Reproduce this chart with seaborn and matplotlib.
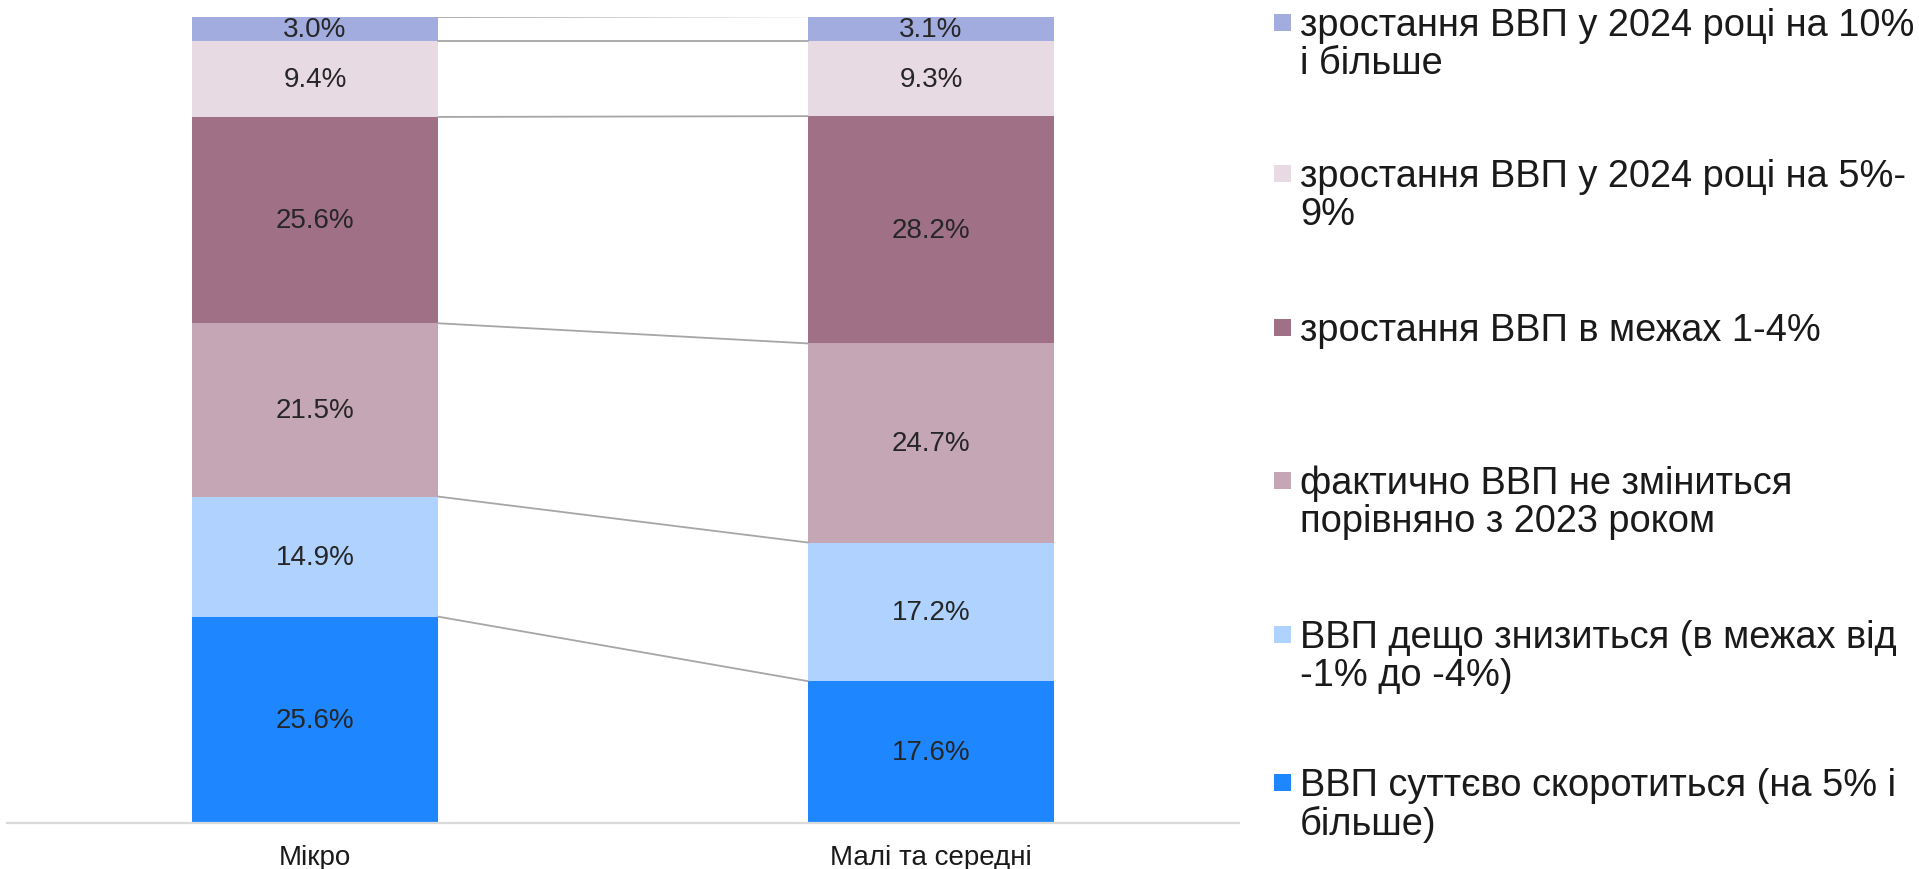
import matplotlib
matplotlib.use("Agg")
import matplotlib.pyplot as plt
from matplotlib.patches import Rectangle
import numpy as np
import seaborn as sns

# Forecast of GDP change in 2024, share of respondents by business size (%)
categories = ["Мікро", "Малі та середні"]

# stacked from the bottom up
big_drop = [25.6, 17.6]
small_drop = [14.9, 17.2]
no_change = [21.5, 24.7]
growth_1_4 = [25.6, 28.2]
growth_5_9 = [9.4, 9.3]
growth_10 = [3.0, 3.1]

series = [big_drop, small_drop, no_change, growth_1_4, growth_5_9, growth_10]
colors = ["#1E87FF", "#AFD2FE", "#C5A6B4", "#A07087", "#E8DAE2", "#A2ACDE"]

legend_labels = [
    "зростання ВВП у 2024 році на 10%\nі більше",
    "зростання ВВП у 2024 році на 5%-\n9%",
    "зростання ВВП в межах 1-4%",
    "фактично ВВП не зміниться\nпорівняно з 2023 роком",
    "ВВП дещо знизиться (в межах від\n-1% до -4%)",
    "ВВП суттєво скоротиться (на 5% і\nбільше)",
]
legend_colors = colors[::-1]

sns.set_theme(style="white")
plt.rcParams["font.family"] = ["Liberation Sans", "DejaVu Sans"]

W, H = 1919, 870
fig = plt.figure(figsize=(W / 100, H / 100), dpi=100)
ax = fig.add_axes([7 / W, 46 / H, 1232 / W, 806 / H])

bottom = np.zeros(len(categories))
cum_levels = []
for vals, color in zip(series, colors):
    sns.barplot(x=categories, y=vals, color=color, saturation=1, width=0.4,
                bottom=bottom, errorbar=None, linewidth=0, ax=ax)
    cont = ax.containers[-1]
    ax.bar_label(cont, labels=[f"{v:.1f}%" for v in vals], label_type="center",
                 fontsize=20, color="#262626")
    bottom = bottom + np.array(vals)
    cum_levels.append(bottom.copy())

# connector lines between matching segment boundaries
for lvl in cum_levels:
    ax.plot([0.2, 0.8], [lvl[0], lvl[1]], color="#A6A6A6", lw=1.3, zorder=1)

ax.set_xlim(-0.5, 1.5)
ax.set_ylim(0, 100)
ax.set_yticks([])
ax.set_xlabel("")
ax.set_ylabel("")
for s in ["left", "right", "top"]:
    ax.spines[s].set_visible(False)
ax.spines["bottom"].set_color("#D9D9D9")
ax.spines["bottom"].set_linewidth(1.6)
ax.tick_params(axis="x", length=0, labelsize=20, pad=15, labelcolor="#1a1a1a")

# legend drawn in pixel coordinates
lax = fig.add_axes([0, 0, 1, 1])
lax.set_xlim(0, W)
lax.set_ylim(H, 0)
lax.axis("off")
first_line_y = [23, 174, 328, 481, 635, 783]
for y, lab, c in zip(first_line_y, legend_labels, legend_colors):
    lax.add_patch(Rectangle((1274, y - 8.5), 17, 17, color=c, lw=0))
    lax.text(1300, y - 15, lab, fontsize=27.4, va="top", ha="left",
             color="#1a1a1a", linespacing=1.06)

fig.savefig("out.png", dpi=100)
